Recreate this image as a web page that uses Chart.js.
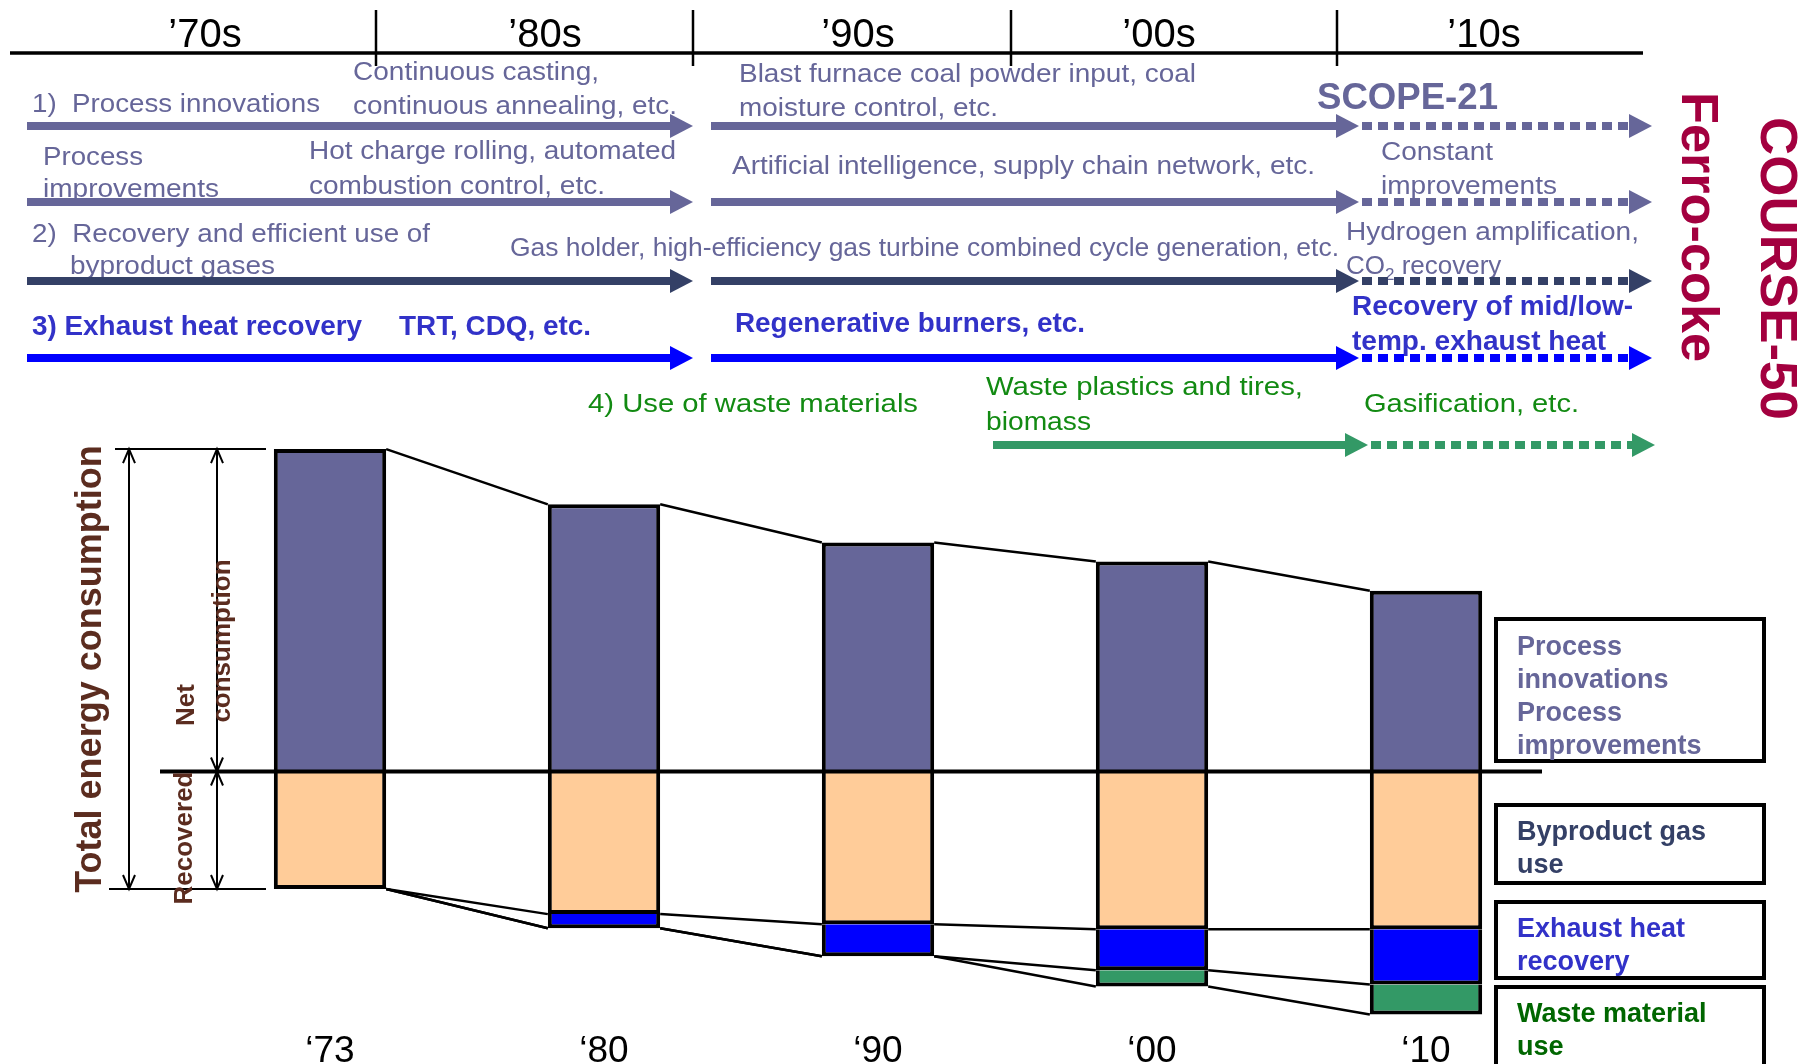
<!DOCTYPE html>
<html>
<head>
<meta charset="utf-8">
<script src="https://cdn.jsdelivr.net/npm/chart.js@4.4.0/dist/chart.umd.min.js"></script>
<style>
body{margin:0;background:#fff;}
#wrap{width:1811px;height:1064px;position:relative;}
</style>
</head>
<body>
<div id="wrap"><canvas id="energyChart"></canvas></div>
<script>
// values (arbitrary units, baseline = 0)
const years = ["‘73", "‘80", "‘90", "‘00", "‘10"];
const netConsumption = [321, 266, 228, 209, 180];
const byproductGas = [117, 142, 152, 157, 157];
const exhaustHeat = [0, 14, 32, 41, 55];
const wasteMaterial = [0, 0, 0, 16, 30];

const decades = ["’70s", "’80s", "’90s", "’00s", "’10s"];
const legendLines = [
    ["Process", "innovations", "Process", "improvements"],
    ["Byproduct gas", "use"],
    ["Exhaust heat", "recovery"],
    ["Waste material", "use"]
];

const FONT = '"Liberation Sans", Arial, sans-serif';
const slate = "#666699";
const navy = "#344066";
const blueText = "#3232c8";
const greenText = "#128a12";
const crimson = "#a3003f";
const brown = "#5b2c1f";

// timeline annotations: text, x, y, width, style
const notes = [
    ["1)  Process innovations", 32, 105, 288, "n"],
    ["Continuous casting,", 353, 73, 246, "n"],
    ["continuous annealing, etc.", 353, 107, 324, "n"],
    ["Blast furnace coal powder input, coal", 739, 75, 457, "n"],
    ["moisture control, etc.", 739, 109, 259, "n"],
    ["Process", 43, 158, 100, "n"],
    ["improvements", 43, 190, 176, "n"],
    ["Hot charge rolling, automated", 309, 152, 367, "n"],
    ["combustion control, etc.", 309, 187, 296, "n"],
    ["Artificial intelligence, supply chain network, etc.", 732, 167, 583, "n"],
    ["Constant", 1381, 153, 112, "n"],
    ["improvements", 1381, 187, 176, "n"],
    ["2)  Recovery and efficient use of", 32, 235, 398, "n"],
    ["byproduct gases", 70, 267, 205, "n"],
    ["Gas holder, high-efficiency gas turbine combined cycle generation, etc.", 510, 249, 829, "n"],
    ["Hydrogen amplification,", 1346, 233, 293, "n"],
    ["3) Exhaust heat recovery", 32, 328, 330, "b"],
    ["TRT, CDQ, etc.", 399, 328, 192, "b"],
    ["Regenerative burners, etc.", 735, 325, 350, "b"],
    ["Recovery of mid/low-", 1352, 308, 281, "b"],
    ["temp. exhaust heat", 1352, 343, 254, "b"],
    ["4) Use of waste materials", 588, 405, 330, "g"],
    ["Waste plastics and tires,", 986, 388, 317, "g"],
    ["biomass", 986, 423, 105, "g"],
    ["Gasification, etc.", 1364, 405, 215, "g"]
];

function fitText(ctx, text, x, y, w){
    const m = ctx.measureText(text).width;
    ctx.save();
    ctx.translate(x, y);
    ctx.scale(w / m, 1);
    ctx.fillText(text, 0, 0);
    ctx.restore();
}

function hArrow(ctx, x1, x2, y, color, dotted){
    const head = 23;
    ctx.save();
    ctx.strokeStyle = color;
    ctx.fillStyle = color;
    ctx.lineWidth = 8;
    if(dotted){
        ctx.setLineDash([10, 6]);
    }
    ctx.beginPath();
    ctx.moveTo(x1, y);
    ctx.lineTo(x2 - head + 2, y);
    ctx.stroke();
    ctx.setLineDash([]);
    ctx.beginPath();
    ctx.moveTo(x2, y);
    ctx.lineTo(x2 - head, y - 12);
    ctx.lineTo(x2 - head, y + 12);
    ctx.closePath();
    ctx.fill();
    ctx.restore();
}

function vArrow(ctx, x, y1, y2){
    ctx.beginPath();
    ctx.moveTo(x, y1);
    ctx.lineTo(x, y2);
    ctx.moveTo(x - 6, y1 + 14);
    ctx.lineTo(x, y1);
    ctx.lineTo(x + 6, y1 + 14);
    ctx.moveTo(x - 6, y2 - 14);
    ctx.lineTo(x, y2);
    ctx.lineTo(x + 6, y2 - 14);
    ctx.stroke();
}

function drawTimeline(ctx){
    ctx.save();
    ctx.strokeStyle = "#000";
    ctx.lineWidth = 3.5;
    ctx.beginPath();
    ctx.moveTo(10, 53);
    ctx.lineTo(1643, 53);
    ctx.stroke();
    ctx.lineWidth = 2.5;
    [376, 693, 1011, 1337].forEach(x => {
        ctx.beginPath();
        ctx.moveTo(x, 10);
        ctx.lineTo(x, 66);
        ctx.stroke();
    });
    ctx.fillStyle = "#000";
    ctx.font = "40px " + FONT;
    ctx.textAlign = "center";
    ctx.textBaseline = "alphabetic";
    const centers = [205, 545, 858, 1159, 1484];
    decades.forEach((d, i) => ctx.fillText(d, centers[i], 47));

    ctx.textAlign = "left";
    ctx.textBaseline = "middle";
    notes.forEach(n => {
        if(n[4] === "b"){
            ctx.font = "bold 27px " + FONT;
            ctx.fillStyle = blueText;
        } else {
            ctx.font = "26px " + FONT;
            ctx.fillStyle = n[4] === "g" ? greenText : slate;
        }
        fitText(ctx, n[0], n[1], n[2], n[3]);
    });

    // CO2 recovery with subscript
    ctx.font = "26px " + FONT;
    ctx.fillStyle = slate;
    ctx.fillText("CO", 1346, 267);
    let cx = 1346 + ctx.measureText("CO").width;
    ctx.font = "17px " + FONT;
    ctx.fillText("2", cx, 275);
    cx += ctx.measureText("2").width;
    ctx.font = "26px " + FONT;
    ctx.fillText(" recovery", cx, 267);

    ctx.font = "bold 36px " + FONT;
    ctx.fillStyle = slate;
    fitText(ctx, "SCOPE-21", 1317, 99, 181);

    // arrows
    const rows = [[126, slate], [202, slate], [281, navy], [358, "#0000ff"]];
    rows.forEach(r => {
        hArrow(ctx, 27, 693, r[0], r[1], false);
        hArrow(ctx, 711, 1359, r[0], r[1], false);
        hArrow(ctx, 1362, 1652, r[0], r[1], true);
    });
    hArrow(ctx, 993, 1368, 445, "#339966", false);
    hArrow(ctx, 1371, 1655, 445, "#339966", true);

    // vertical project names
    ctx.fillStyle = crimson;
    ctx.font = "bold 52px " + FONT;
    ctx.save();
    ctx.translate(1696, 92);
    ctx.rotate(Math.PI / 2);
    fitText(ctx, "Ferro-coke", 0, 0, 270);
    ctx.restore();
    ctx.save();
    ctx.translate(1775, 117);
    ctx.rotate(Math.PI / 2);
    fitText(ctx, "COURSE-50", 0, 0, 303);
    ctx.restore();
    ctx.restore();
}

function drawLegend(ctx){
    const boxes = [[619, 142], [805, 78], [902, 76], [987, 100]];
    const colors = [slate, navy, blueText, "#006600"];
    const firstLine = [648, 833, 930, 1015];
    ctx.save();
    ctx.strokeStyle = "#000";
    ctx.lineWidth = 4;
    ctx.font = "bold 27px " + FONT;
    ctx.textAlign = "left";
    ctx.textBaseline = "middle";
    boxes.forEach((b, i) => {
        ctx.strokeRect(1496, b[0], 268, b[1]);
        ctx.fillStyle = colors[i];
        legendLines[i].forEach((t, k) => {
            ctx.fillText(t, 1517, firstLine[i] + k * 33);
        });
    });
    ctx.restore();
}

const diagramPlugin = {
    id: "diagram",
    afterDatasetsDraw(chart){
        const ctx = chart.ctx;
        const yScale = chart.scales.y;
        const bars = chart.getDatasetMeta(0).data;

        const levels = years.map((_, i) => {
            const b1 = -byproductGas[i];
            const b2 = b1 - exhaustHeat[i];
            const b3 = b2 - wasteMaterial[i];
            return [netConsumption[i], b1, b2, b3];
        });

        ctx.save();
        ctx.strokeStyle = "#000";
        ctx.lineWidth = 2.5;
        for(let i = 0; i < bars.length - 1; i++){
            const r = bars[i].x + bars[i].width / 2;
            const l = bars[i + 1].x - bars[i + 1].width / 2;
            levels[i].forEach((v, k) => {
                ctx.beginPath();
                ctx.moveTo(r, yScale.getPixelForValue(v));
                ctx.lineTo(l, yScale.getPixelForValue(levels[i + 1][k]));
                ctx.stroke();
            });
        }

        // baseline between net and recovered
        const y0 = yScale.getPixelForValue(0);
        ctx.lineWidth = 4;
        ctx.beginPath();
        ctx.moveTo(160, y0);
        ctx.lineTo(1542, y0);
        ctx.stroke();

        // brackets on the left, taken from the '73 bar
        const yTop = yScale.getPixelForValue(levels[0][0]);
        const yBot = yScale.getPixelForValue(levels[0][3]);
        ctx.lineWidth = 2;
        ctx.beginPath();
        ctx.moveTo(115, yTop);
        ctx.lineTo(266, yTop);
        ctx.moveTo(109, yBot);
        ctx.lineTo(266, yBot);
        ctx.stroke();
        vArrow(ctx, 129, yTop, yBot);
        vArrow(ctx, 217, yTop, y0);
        vArrow(ctx, 217, y0, yBot);

        ctx.fillStyle = brown;
        ctx.textAlign = "center";
        ctx.textBaseline = "middle";
        ctx.save();
        ctx.translate(91, (yTop + yBot) / 2);
        ctx.rotate(-Math.PI / 2);
        ctx.font = "bold 36px " + FONT;
        ctx.fillText("Total energy consumption", 0, 0);
        ctx.restore();
        ctx.font = "bold 26px " + FONT;
        ctx.save();
        ctx.translate(187, 705);
        ctx.rotate(-Math.PI / 2);
        ctx.fillText("Net", 0, 0);
        ctx.restore();
        ctx.save();
        ctx.translate(223, 641);
        ctx.rotate(-Math.PI / 2);
        ctx.fillText("consumption", 0, 0);
        ctx.restore();
        ctx.save();
        ctx.translate(185, 838);
        ctx.rotate(-Math.PI / 2);
        ctx.fillText("Recovered", 0, 0);
        ctx.restore();
        ctx.restore();
    },
    afterDraw(chart){
        drawTimeline(chart.ctx);
        drawLegend(chart.ctx);
    }
};

const barStyle = {
    borderColor: "#000",
    borderWidth: 4,
    barPercentage: 0.41,
    categoryPercentage: 1.0
};

new Chart(document.getElementById("energyChart"), {
    type: "bar",
    data: {
        labels: years,
        datasets: [
            Object.assign({label: "Process innovations / improvements", data: netConsumption, backgroundColor: "#666699"}, barStyle),
            Object.assign({label: "Byproduct gas use", data: byproductGas.map(v => -v), backgroundColor: "#ffcc99"}, barStyle),
            Object.assign({label: "Exhaust heat recovery", data: exhaustHeat.map(v => v ? -v : null), backgroundColor: "#0000ff"}, barStyle),
            Object.assign({label: "Waste material use", data: wasteMaterial.map(v => v ? -v : null), backgroundColor: "#339966"}, barStyle)
        ]
    },
    options: {
        responsive: true,
        maintainAspectRatio: false,
        devicePixelRatio: 1,
        animation: false,
        events: [],
        layout: {padding: {top: 430, left: 193, right: 248, bottom: -16}},
        plugins: {legend: {display: false}, tooltip: {enabled: false}},
        scales: {
            x: {
                stacked: true,
                grid: {display: false, drawTicks: false},
                border: {display: false},
                ticks: {color: "#000", font: {size: 37, family: FONT}, padding: 6, maxRotation: 0}
            },
            y: {
                stacked: true,
                display: false,
                min: -251,
                max: 340
            }
        }
    },
    plugins: [diagramPlugin]
});
</script>
</body>
</html>
